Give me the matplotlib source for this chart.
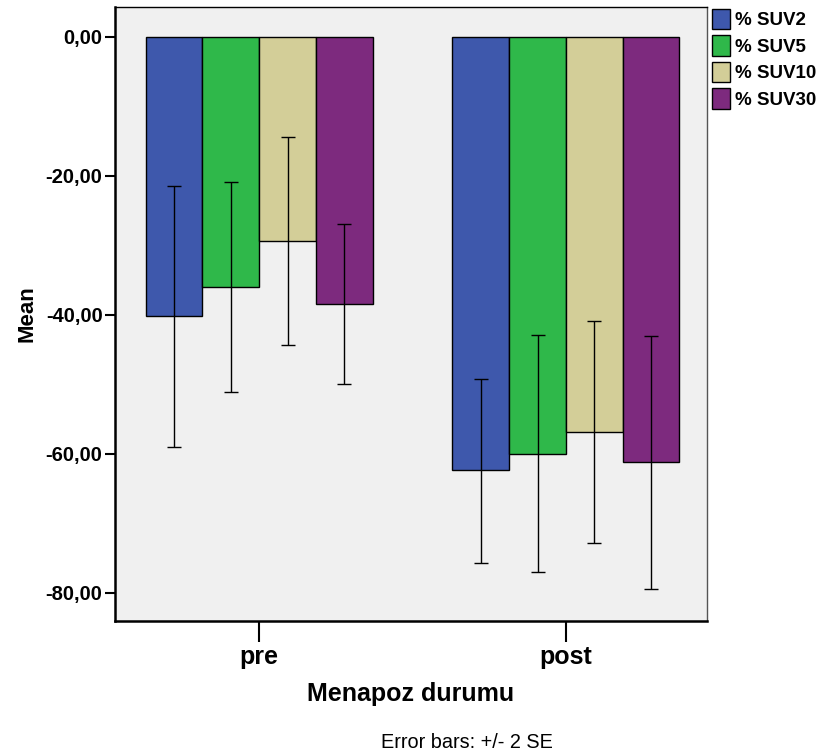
import matplotlib
matplotlib.use("Agg")
import matplotlib.pyplot as plt
import numpy as np

plt.rcParams['font.family'] = ['Liberation Sans', 'DejaVu Sans']

groups = ["pre", "post"]
series = ["% SUV2", "% SUV5", "% SUV10", "% SUV30"]
colors = ["#3E58AC", "#2FB84A", "#D3CE98", "#7D2A7E"]
means = [
    [-40.2, -62.4],
    [-36.0, -60.1],
    [-29.4, -56.9],
    [-38.5, -61.2],
]
err_upper = [
    [-21.4, -49.3],
    [-20.9, -42.9],
    [-14.4, -40.9],
    [-27.0, -43.1],
]
err_lower = [
    [-59.1, -75.7],
    [-51.2, -77.0],
    [-44.4, -72.9],
    [-50.0, -79.5],
]
yticks = [0, -20, -40, -60, -80]
ytick_labels = ["0,00", "-20,00", "-40,00", "-60,00", "-80,00"]

fig = plt.figure(figsize=(8.22, 7.56), dpi=100)
ax = fig.add_axes([115/822, 1-621/756, (707-115)/822, (621-7)/756])
ax.set_facecolor("#F0F0F0")

x = np.arange(len(groups))
w = 0.185
for i, s in enumerate(series):
    xs = x + (i - 1.5) * w
    m = np.array(means[i])
    lo = np.array(err_lower[i]); hi = np.array(err_upper[i])
    ax.bar(xs, m, width=w, color=colors[i], edgecolor="black", linewidth=1.0, label=s, zorder=2)
    ax.errorbar(xs, (lo + hi) / 2, yerr=(hi - lo) / 2, fmt="none", ecolor="black",
                elinewidth=1.0, capsize=5, capthick=1.0, zorder=3)

ax.set_xlim(-0.47, 1.46)
ax.set_ylim(-84.1, 4.3)
ax.set_yticks(yticks)
ax.set_yticklabels(ytick_labels, fontsize=14.5, fontweight="bold")
ax.set_xticks(x)
ax.set_xticklabels(groups, fontsize=18, fontweight="bold")
ax.tick_params(axis="y", length=7, width=1.5, direction="out", pad=2)
ax.tick_params(axis="x", length=15, width=1.5, direction="out", pad=2)
ax.set_ylabel("Mean", fontsize=16, fontweight="bold", labelpad=6)
ax.set_xlabel("Menapoz durumu", fontsize=18, fontweight="bold", labelpad=10)
for side in ["left", "bottom"]:
    ax.spines[side].set_linewidth(1.8)
ax.spines["top"].set_linewidth(1.0)
ax.spines["right"].set_linewidth(1.0)
ax.spines["right"].set_color("#555555")

leg = fig.legend(loc="upper left", bbox_to_anchor=(710/822, 1-7/756), frameon=False,
                 prop={"size": 13.5, "weight": "bold"}, handlelength=0.95, handleheight=1.3,
                 handletextpad=0.3, labelspacing=0.32, borderaxespad=0, borderpad=0.1)

fig.text(467/822, 1-743/756, "Error bars: +/- 2 SE", ha="center", va="center", fontsize=14.3)

fig.savefig("out.png", dpi=100)
